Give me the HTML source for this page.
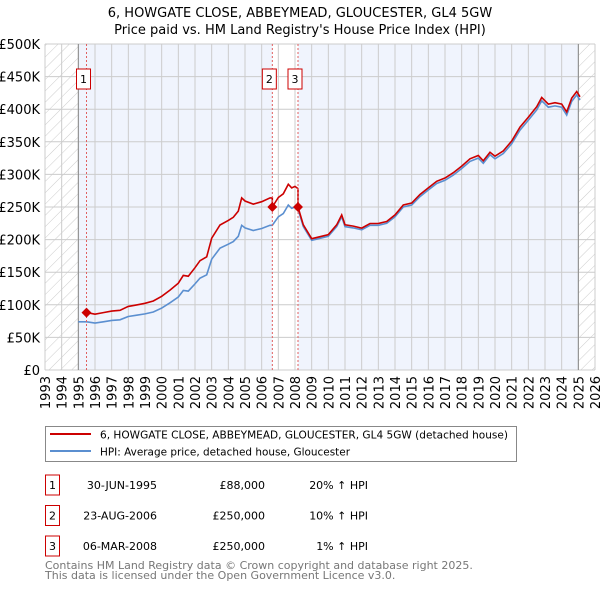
<!DOCTYPE html>
<html><head><meta charset="utf-8">
<style>
body{margin:0;background:#fff;width:600px;height:590px;overflow:hidden;font-family:"DejaVu Sans","Liberation Sans",sans-serif;}
svg text{font-family:"DejaVu Sans","Liberation Sans",sans-serif;}
</style></head>
<body>
<svg id="chart" width="600" height="590" xmlns="http://www.w3.org/2000/svg">
<defs>
<pattern id="hatch" patternUnits="userSpaceOnUse" width="8" height="8" patternTransform="rotate(45)">
<line x1="0" y1="0" x2="0" y2="8" stroke="#ccc" stroke-width="1"/>
</pattern>
</defs>
<text x="300" y="17" text-anchor="middle" font-size="13">6, HOWGATE CLOSE, ABBEYMEAD, GLOUCESTER, GL4 5GW</text>
<text x="300" y="34" text-anchor="middle" font-size="13">Price paid vs. HM Land Registry's House Price Index (HPI)</text>
<g id="plot"></g>
<g>
<rect x="45.5" y="426.5" width="471" height="35" fill="#fff" stroke="#888"/>
<line x1="50" y1="434" x2="91" y2="434" stroke="#cc0000" stroke-width="2"/>
<text x="100" y="438.5" font-size="11" textLength="408" lengthAdjust="spacingAndGlyphs">6, HOWGATE CLOSE, ABBEYMEAD, GLOUCESTER, GL4 5GW (detached house)</text>
<line x1="50" y1="451" x2="91" y2="451" stroke="#5b8fd0" stroke-width="2"/>
<text x="100" y="455.5" font-size="11" textLength="250" lengthAdjust="spacingAndGlyphs">HPI: Average price, detached house, Gloucester</text>
</g>
<g id="table" font-size="11"></g>
<text x="45" y="569" font-size="11" fill="#777">Contains HM Land Registry data © Crown copyright and database right 2025.</text>
<text x="45" y="579" font-size="11" fill="#777">This data is licensed under the Open Government Licence v3.0.</text>
</svg>
<script>
const hpiYears=[1995,1995.5,1996,1996.5,1997,1997.5,1998,1998.5,1999,1999.5,2000,2000.5,2001,2001.3,2001.6,2002,2002.3,2002.7,2003,2003.5,2004,2004.3,2004.6,2004.8,2005,2005.5,2006,2006.5,2006.64,2007,2007.3,2007.6,2007.8,2008,2008.18,2008.5,2009,2009.5,2010,2010.5,2010.8,2011,2011.5,2012,2012.5,2013,2013.5,2014,2014.5,2015,2015.5,2016,2016.5,2017,2017.5,2018,2018.5,2019,2019.3,2019.7,2020,2020.5,2021,2021.5,2022,2022.5,2022.8,2023.2,2023.6,2024,2024.3,2024.6,2024.9,2025.1];
const hpiValues=[74,74,72,74,76,77,82,84,86,89,95,103,112,122,121,132,141,146,170,187,193,197,205,222,218,214,217,222,222,235,240,253,248,250,247,220,199,202,205,220,235,220,218,215,222,222,225,235,250,253,266,276,286,291,299,309,320,325,317,330,324,332,347,368,383,399,413,403,405,403,391,412,422,414];
const saleLabels=["1","2","3"];
const saleYears=[1995.49,2006.64,2008.18];
const salePrices=[88,250,250];
const saleDates=["30-JUN-1995","23-AUG-2006","06-MAR-2008"];
const salePriceText=["£88,000","£250,000","£250,000"];
const saleHpiText=["20% ↑ HPI","10% ↑ HPI","1% ↑ HPI"];
const yTicks=[0,50,100,150,200,250,300,350,400,450,500];
const yTickLabels=["£0","£50K","£100K","£150K","£200K","£250K","£300K","£350K","£400K","£450K","£500K"];
const xTicks=[1993,1994,1995,1996,1997,1998,1999,2000,2001,2002,2003,2004,2005,2006,2007,2008,2009,2010,2011,2012,2013,2014,2015,2016,2017,2018,2019,2020,2021,2022,2023,2024,2025,2026];

const X0=45,X1=595,Y0=370,Y1=44;
const xs=y=>X0+(y-1993)/(2026-1993)*(X1-X0);
const ys=v=>Y0-v/500*(Y0-Y1);
const NS="http://www.w3.org/2000/svg";
const plot=document.getElementById('plot');
function mk(tag,attrs,parent){const e=document.createElementNS(NS,tag);for(const k in attrs)e.setAttribute(k,attrs[k]);(parent||plot).appendChild(e);return e;}

let r;
r=mk('rect',{x:xs(1995),y:Y1,width:xs(2025)-xs(1995),height:Y0-Y1,fill:'#f0f4fd'});


r=mk('rect',{x:xs(saleYears[1]),y:Y1,width:xs(saleYears[2])-xs(saleYears[1]),height:Y0-Y1,fill:'#fff'});


r=mk('rect',{x:X0,y:Y1,width:xs(1995)-X0,height:Y0-Y1,fill:'url(#hatch)'});


r=mk('rect',{x:xs(2025),y:Y1,width:X1-xs(2025),height:Y0-Y1,fill:'url(#hatch)'});



yTicks.forEach((t,i)=>{
  const l=mk('line',{x1:X0,x2:X1,y1:ys(t),y2:ys(t),stroke:'#ccc','stroke-width':1});
  
  
  const tx=mk('text',{x:X0-5,y:ys(t)+5,'text-anchor':'end','font-size':13});
  tx.textContent=yTickLabels[i];
  
  
});
xTicks.forEach(t=>{
  const l=mk('line',{x1:xs(t),x2:xs(t),y1:Y1,y2:Y0,stroke:'#ccc','stroke-width':1});
  
  
  const tx=mk('text',{x:0,y:0,'text-anchor':'end','font-size':13,transform:`translate(${xs(t)+5},${Y0+6}) rotate(-90)`});
  tx.textContent=t;
  
  
});
[1995,2025].forEach(t=>{
  const l=mk('line',{x1:xs(t),x2:xs(t),y1:Y1,y2:Y0,stroke:'#888','stroke-width':1});
  
  
});

let d=hpiYears.map((y,i)=>(i?'L':'M')+xs(y).toFixed(1)+','+ys(hpiValues[i]).toFixed(1)).join('');
let p=mk('path',{d:d,fill:'none',stroke:'#5b8fd0','stroke-width':1.6});



function hpiAt(y){for(let i=1;i<hpiYears.length;i++){if(y<=hpiYears[i]){const f=(y-hpiYears[i-1])/(hpiYears[i]-hpiYears[i-1]);return hpiValues[i-1]+f*(hpiValues[i]-hpiValues[i-1]);}}return hpiValues[hpiValues.length-1];}
let pts=[];
hpiYears.forEach((y,i)=>{
  if(y<saleYears[0])return;
  let k=0;for(let j=0;j<saleYears.length;j++)if(y>=saleYears[j])k=j;
  pts.push([y,hpiValues[i]*salePrices[k]/hpiAt(saleYears[k])]);
});
saleYears.forEach((sy,k)=>{
  if(k>0){pts.push([sy-0.001,hpiAt(sy)*salePrices[k-1]/hpiAt(saleYears[k-1])]);}
  pts.push([sy,salePrices[k]]);
});
pts.sort((a,b)=>a[0]-b[0]);
d=pts.map((q,i)=>(i?'L':'M')+xs(q[0]).toFixed(1)+','+ys(q[1]).toFixed(1)).join('');
p=mk('path',{d:d,fill:'none',stroke:'#cc0000','stroke-width':1.6});



saleYears.forEach((sy,k)=>{
  const l=mk('line',{x1:xs(sy),x2:xs(sy),y1:Y1,y2:Y0,stroke:'#e06060','stroke-width':1,'stroke-dasharray':'2,2'});
  
  
  const cx=xs(sy),cy=ys(salePrices[k]);
  const m=mk('path',{d:`M${cx},${cy-5}L${cx+5},${cy}L${cx},${cy+5}L${cx-5},${cy}Z`,fill:'#cc0000'});
  
  
  const bx=xs(sy)-10;
  const b=mk('rect',{x:bx,y:69,width:14,height:20,fill:'#fff',stroke:'#cc0000'});
  
  
  const t=mk('text',{x:bx+7,y:83,'text-anchor':'middle','font-size':11});
  t.textContent=saleLabels[k];
  
  
});

const table=document.getElementById('table');
saleYears.forEach((sy,k)=>{
  const y0=475+k*30.5;
  const b=mk('rect',{x:45.5,y:y0,width:14,height:20,fill:'#fff',stroke:'#cc0000'},table);
  
  
  let t=mk('text',{x:52.5,y:y0+14,'text-anchor':'middle'},table);
  t.textContent=saleLabels[k];
  
  
  t=mk('text',{x:157,y:y0+14,'text-anchor':'end'},table);
  t.textContent=saleDates[k];
  
  
  t=mk('text',{x:265,y:y0+14,'text-anchor':'end'},table);
  t.textContent=salePriceText[k];
  
  
  t=mk('text',{x:368,y:y0+14,'text-anchor':'end'},table);
  t.textContent=saleHpiText[k];
  
  
});
</script>
</body></html>
